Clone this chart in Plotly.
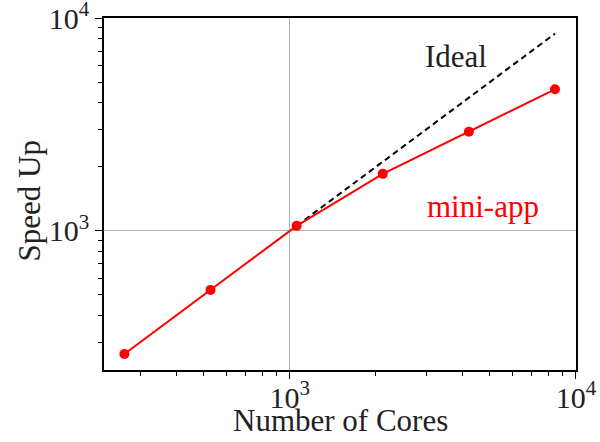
import numpy as np
import plotly.graph_objects as go

# Strong-scaling results
cores = [264, 528, 1056, 2112, 4224, 8448]
speedup = [264, 528, 1056, 1853, 2925, 4626]

# Ideal scaling reference from 1056 cores upward
ideal_cores = [1056, 8448]
ideal_speedup = [1056, 8448]

major_ticks = [1000, 10000]
major_ticktext = ["10<sup>3</sup>", "10<sup>4</sup>"]
minor_ticks = [200, 300, 400, 500, 600, 700, 800, 900,
               2000, 3000, 4000, 5000, 6000, 7000, 8000, 9000]

FONT = "Liberation Serif"
TEXT = "#222222"
RED = "#ff0000"

fig = go.Figure()
fig.add_trace(go.Scatter(
    x=ideal_cores, y=ideal_speedup, mode="lines",
    line=dict(color="black", width=2, dash="6px,4px"),
    showlegend=False, hoverinfo="skip",
))
fig.add_trace(go.Scatter(
    x=cores, y=speedup, mode="lines+markers",
    line=dict(color=RED, width=2),
    marker=dict(color=RED, size=10),
    showlegend=False,
))

fig.add_annotation(x=np.log10(3800), y=np.log10(6600), xref="x", yref="y",
                   text="Ideal", showarrow=False,
                   font=dict(family=FONT, size=31, color=TEXT))
fig.add_annotation(x=np.log10(4730), y=np.log10(1297), xref="x", yref="y",
                   text="mini-app", showarrow=False,
                   font=dict(family=FONT, size=31, color=RED))

# Axis titles
fig.add_annotation(x=0.5, y=-0.143, xref="paper", yref="paper",
                   text="Number of Cores", showarrow=False,
                   xanchor="center", yanchor="middle",
                   font=dict(family=FONT, size=31, color=TEXT))
fig.add_annotation(x=-0.158, y=0.48, xref="paper", yref="paper",
                   text="Speed Up", showarrow=False, textangle=-90,
                   xanchor="center", yanchor="middle",
                   font=dict(family=FONT, size=31, color=TEXT))

axis_common = dict(
    type="log",
    automargin=False,
    showline=True, linecolor="black", linewidth=1.5, mirror=True,
    ticks="outside", ticklen=7, tickwidth=1.2, tickcolor="black",
    showgrid=True, gridcolor="#b0b0b0", gridwidth=1,
    zeroline=False,
    tickvals=major_ticks, ticktext=major_ticktext,
    tickfont=dict(family=FONT, size=30, color=TEXT),
    ticklabeloverflow="allow",
    minor=dict(tickvals=minor_ticks, ticks="outside", ticklen=4, tickwidth=1,
               tickcolor="black", showgrid=False),
)

fig.update_xaxes(**axis_common, range=[np.log10(224), 4.0002], ticklabelstandoff=-7)
fig.update_yaxes(**axis_common, range=[np.log10(222), 4.0002])

fig.update_layout(
    width=600, height=442,
    margin=dict(l=104, r=24, t=18, b=72),
    paper_bgcolor="white", plot_bgcolor="white",
)

fig.write_html("out.html")
